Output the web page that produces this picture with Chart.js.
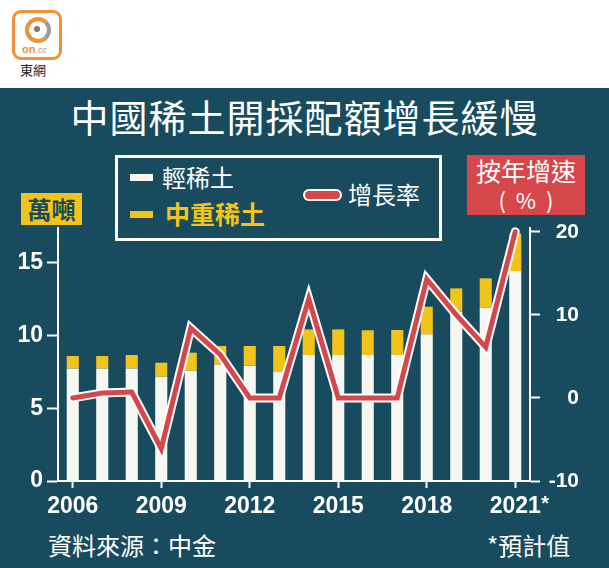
<!DOCTYPE html>
<html>
<head>
<meta charset="utf-8">
<script src="https://cdn.jsdelivr.net/npm/chart.js@4/dist/chart.umd.min.js"></script>
<style>
  html, body { margin:0; padding:0; }
  body { width:609px; height:568px; position:relative; overflow:hidden; background:#ffffff;
         font-family:"Noto Sans CJK TC","Noto Sans CJK SC",sans-serif; }
  #panel { position:absolute; left:0; top:88px; width:609px; height:480px; background:#174b5d; }
  #c { position:absolute; left:0; top:0; }
  .abs { position:absolute; white-space:nowrap; line-height:1; }
  #logo { position:absolute; left:12px; top:10px; width:44px; height:44px; border:3px solid #f0903a;
          border-radius:9px; background:#fff; }
  #logo .ring { position:absolute; left:10px; top:4px; width:18px; height:18px; border-radius:50%;
          border:4px solid #f0903a; border-right-color:#9a9a9a; }
  #logo .dot { position:absolute; left:19px; top:13px; width:6px; height:6px; border-radius:50%; background:#777; }
  #logo .on { position:absolute; left:7px; top:30px; font:bold 11px "Liberation Sans",sans-serif; color:#f0903a; }
  #logo .on span { color:#999; font-weight:normal; font-size:9px; }
  #brand { left:20px; top:63px; font-size:13px; color:#222; }
  #title { left:0; width:609px; top:97px; text-align:center; font-size:38px; color:#fff; font-weight:400; letter-spacing:1px; }
  #legbox { position:absolute; left:115px; top:155px; width:321px; height:80px; border:3px solid #fff; }
  .dash { position:absolute; width:23px; height:7px; }
  #unit { left:21px; top:193px; width:61px; height:32px; background:#f2c31b; color:#174b5d;
          font-size:24px; font-weight:bold; text-align:center; line-height:32px; }
  #rbox { position:absolute; left:467px; top:155px; width:118px; height:60px; background:#d6474b; color:#fff;
          text-align:center; }
  #src { left:48px; top:533px; font-size:24px; color:#fff; }
  #est { left:487px; top:533px; font-size:24px; color:#fff; }
</style>
</head>
<body>
<div id="panel"></div>
<div id="logo"><div class="ring"></div><div class="dot"></div><div class="on">on<span>.cc</span></div></div>
<div class="abs" id="brand">東網</div>
<div class="abs" id="title">中國稀土開採配額增長緩慢</div>
<div id="legbox"></div>
<div class="dash" style="left:130px;top:174px;background:#f7f7f2;"></div>
<div class="abs" style="left:162px;top:165px;font-size:24px;color:#fff;">輕稀土</div>
<div class="dash" style="left:130px;top:211px;background:#f2c31b;"></div>
<div class="abs" style="left:165px;top:201px;font-size:25px;color:#f2c31b;font-weight:bold;">中重稀土</div>
<div class="abs" style="left:303px;top:189px;width:39px;height:12px;border-radius:6px;background:#fff;"></div>
<div class="abs" style="left:305px;top:191px;width:35px;height:8px;border-radius:4px;background:#d6474b;"></div>
<div class="abs" style="left:348px;top:182px;font-size:24px;color:#fff;">增長率</div>
<div class="abs" id="unit">萬噸</div>
<div id="rbox"><div style="font-size:25px;line-height:1;margin-top:3px;">按年增速</div><div style="font-size:22px;line-height:1;margin-top:5px;">(&nbsp;&nbsp;%&nbsp;&nbsp;)</div></div>
<div class="abs" id="src">資料來源：中金</div>
<div class="abs" id="est">*預計值</div>
<canvas id="c" width="609" height="568"></canvas>
<script>
const years = ['2006','2007','2008','2009','2010','2011','2012','2013','2014','2015','2016','2017','2018','2019','2020','2021'];
const lightRE = [7.74,7.74,7.74,7.17,7.58,8.0,7.93,7.52,8.66,8.66,8.66,8.66,10.08,11.64,11.91,14.43];
const heavyRE = [0.85,0.85,0.92,0.96,1.24,1.28,1.35,1.76,1.76,1.76,1.70,1.72,1.90,1.60,2.02,2.57];
const growth  = [0,0.6,0.7,-6.1,8.4,5.2,0,0,11.9,0,0,0,14.3,10.0,6.1,20.0];
const xTickYears = ['2006','2009','2012','2015','2018','2021'];
const leftTicks = [0,5,10,15];
const rightTicks = [-10,0,10,20];
const estimateMark = '*';

const WHITE = '#f7f7f2', YELLOW = '#f2c31b', RED = '#d6474b';
const numFont = (s) => ({ family: '"Liberation Sans", Arial, sans-serif', size: s, weight: 'bold' });

const starPlugin = {
  id: 'star',
  afterDraw(chart) {
    const xs = chart.scales.x;
    const ctx = chart.ctx;
    const px = xs.getPixelForValue(years.length - 1);
    ctx.save();
    ctx.fillStyle = '#fff';
    ctx.font = 'bold 20px "Liberation Sans", Arial, sans-serif';
    ctx.textBaseline = 'top';
    ctx.textAlign = 'left';
    ctx.fillText(estimateMark, px + 26, 494);
    ctx.restore();
  }
};

new Chart(document.getElementById('c'), {
  type: 'bar',
  data: {
    labels: years,
    datasets: [
      { type: 'line', data: growth, yAxisID: 'y1', borderColor: RED, borderWidth: 5,
        pointRadius: 0, tension: 0, order: 0, clip: false, borderJoinStyle: 'miter', borderCapStyle: 'round' },
      { type: 'line', data: growth, yAxisID: 'y1', borderColor: '#ffffff', borderWidth: 9,
        pointRadius: 0, tension: 0, order: 1, clip: false, borderJoinStyle: 'miter', borderCapStyle: 'round' },
      { data: lightRE, backgroundColor: WHITE, yAxisID: 'y', order: 2, barPercentage: 0.41, categoryPercentage: 1 },
      { data: heavyRE, backgroundColor: YELLOW, yAxisID: 'y', order: 2, barPercentage: 0.41, categoryPercentage: 1 }
    ]
  },
  options: {
    responsive: false,
    animation: false,
    devicePixelRatio: 1,
    layout: { padding: { top: 228, left: 0, right: 30, bottom: 0 } },
    plugins: { legend: { display: false }, tooltip: { enabled: false } },
    scales: {
      x: {
        stacked: true,
        offset: true,
        grid: { display: true, drawOnChartArea: false, offset: false, tickLength: 7, tickColor: '#fff', tickWidth: 2 },
        border: { display: true, color: '#fff', width: 2 },
        ticks: {
          autoSkip: false, maxRotation: 0, color: '#fff', font: numFont(23), padding: 5,
          callback: function(v, i) { return xTickYears.includes(years[i]) ? years[i] : null; }
        },
        afterFit(s) { s.height = 87; }
      },
      y: {
        position: 'left', stacked: true, min: 0, max: 17.39,
        afterBuildTicks(s) { s.ticks = leftTicks.map(v => ({ value: v })); },
        grid: { drawOnChartArea: false, tickLength: 11, tickColor: '#fff', tickWidth: 2 },
        border: { display: true, color: '#fff', width: 2 },
        ticks: { color: '#fff', font: numFont(23), padding: 4 },
        afterFit(s) { s.width = 58; }
      },
      y1: {
        position: 'right', min: -10, max: 20.45,
        afterBuildTicks(s) { s.ticks = rightTicks.map(v => ({ value: v })); },
        grid: { drawOnChartArea: false, tickLength: 10, tickColor: '#fff', tickWidth: 2 },
        border: { display: true, color: '#fff', width: 2 },
        ticks: { color: '#fff', font: numFont(21), padding: 3, crossAlign: 'far' },
        afterFit(s) { s.width = 49; }
      }
    }
  },
  plugins: [starPlugin]
});
</script>
</body>
</html>
